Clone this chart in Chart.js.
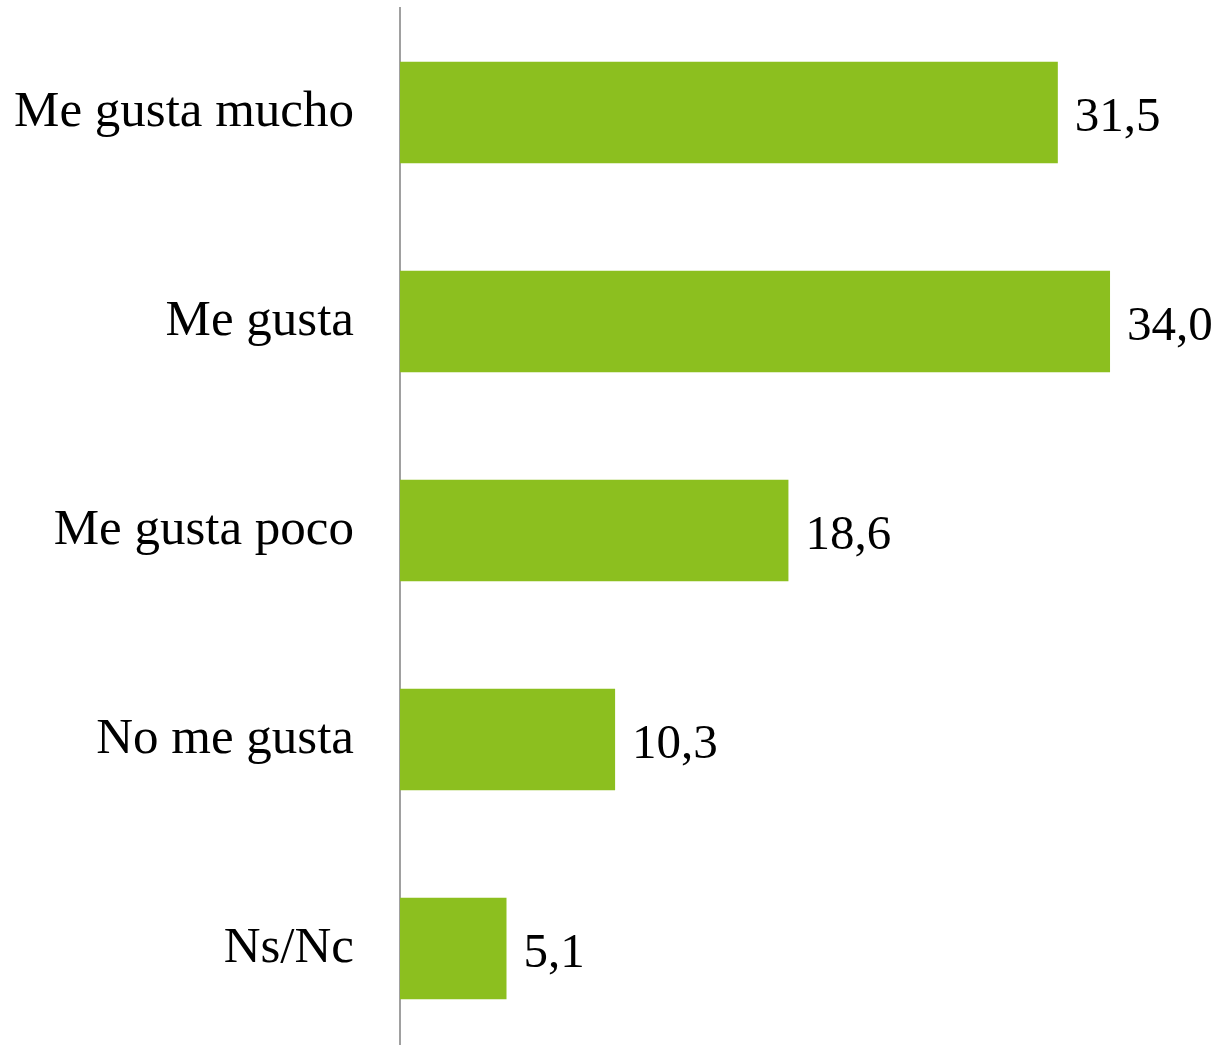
<!DOCTYPE html>
<html>
<head>
<meta charset="utf-8">
<script src="https://cdn.jsdelivr.net/npm/chart.js@4/dist/chart.umd.min.js"></script>
<style>
  html, body { margin: 0; padding: 0; background: #fff; overflow: hidden; }
  #wrap { width: 1218px; height: 1053px; position: relative; }
</style>
</head>
<body>
<div id="wrap"><canvas id="chart"></canvas></div>
<script>
const categories = ["Me gusta mucho", "Me gusta", "Me gusta poco", "No me gusta", "Ns/Nc"];
const values = [31.5, 34.0, 18.6, 10.3, 5.1];

const barColor = "#8CBF1F";
const fontFamily = "'Liberation Serif', 'DejaVu Serif', serif";

// 値ラベル（小数点はカンマ）
const valueLabels = {
  id: 'valueLabels',
  afterDatasetsDraw(chart) {
    const ctx = chart.ctx;
    const meta = chart.getDatasetMeta(0);
    ctx.save();
    ctx.font = `49px ${fontFamily}`;
    ctx.fillStyle = "#000";
    ctx.textAlign = "left";
    ctx.textBaseline = "middle";
    meta.data.forEach((bar, i) => {
      const txt = values[i].toFixed(1).replace(".", ",");
      ctx.fillText(txt, bar.x + 17, bar.y + 6);
    });
    ctx.restore();
  }
};

new Chart(document.getElementById("chart"), {
  type: "bar",
  data: {
    labels: categories,
    datasets: [{
      data: values,
      backgroundColor: barColor,
      borderWidth: 0,
      barPercentage: 0.97,
      categoryPercentage: 0.5
    }]
  },
  options: {
    indexAxis: "y",
    responsive: true,
    maintainAspectRatio: false,
    animation: false,
    layout: { padding: { top: 8, right: 0, bottom: 0, left: 0 } },
    scales: {
      x: {
        display: false,
        min: 0,
        max: 39.17
      },
      y: {
        afterFit(scale) {
          scale.width = 400;
          scale.paddingTop = 0;
          scale.paddingBottom = 0;
        },
        grid: { display: false, drawTicks: false },
        border: { display: true, color: "#a0a0a0", width: 2 },
        ticks: {
          color: "#000",
          padding: 46,
          font: { family: fontFamily, size: 51 }
        }
      }
    },
    plugins: {
      legend: { display: false },
      tooltip: { enabled: false }
    }
  },
  plugins: [valueLabels]
});
</script>
</body>
</html>
